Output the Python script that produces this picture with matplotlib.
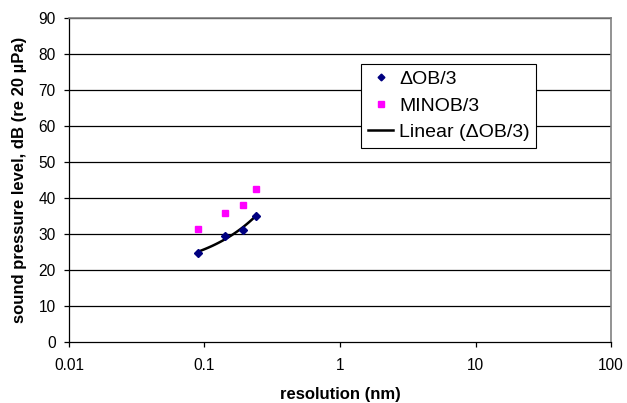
import numpy as np
import matplotlib.pyplot as plt
from matplotlib.ticker import FixedLocator, NullLocator

plt.rcParams['font.family'] = ['Liberation Sans', 'DejaVu Sans']

# data
res_ob3 = [0.089, 0.141, 0.191, 0.238]
spl_ob3 = [24.6, 29.3, 31.1, 35.0]
res_minob3 = [0.089, 0.141, 0.191, 0.238]
spl_minob3 = [31.3, 35.8, 37.9, 42.3]
x_ticks = [0.01, 0.1, 1, 10, 100]
x_labels = ['0.01', '0.1', '1', '10', '100']
y_ticks = list(range(0, 91, 10))

fig = plt.figure(figsize=(6.27, 4.03), dpi=100)
ax = fig.add_axes([0.110, 0.152, 0.8645, 0.804])

# linear trendline through the ΔOB/3 points
a, b = np.polyfit(res_ob3, spl_ob3, 1)
xt = np.linspace(min(res_ob3), max(res_ob3), 100)

ax.plot(res_ob3, spl_ob3, linestyle='none', marker='D', markersize=4.3,
        color='#000080', label='ΔOB/3', zorder=4)
ax.plot(res_minob3, spl_minob3, linestyle='none', marker='s', markersize=4.6,
        color='#FF00FF', label='MINOB/3', zorder=4)
ax.plot(xt, a * xt + b, color='black', linewidth=1.8, label='Linear (ΔOB/3)', zorder=3)

ax.set_xscale('log')
ax.set_xlim(0.01, 100)
ax.set_ylim(0, 90)
ax.xaxis.set_major_locator(FixedLocator(x_ticks))
ax.xaxis.set_minor_locator(NullLocator())
ax.set_xticklabels(x_labels)
ax.set_yticks(y_ticks)

for v in y_ticks[1:]:
    ax.axhline(v, color='black', linewidth=0.9, zorder=1)

for s in ['top', 'right']:
    ax.spines[s].set_color('#808080')
    ax.spines[s].set_linewidth(1.2)
for s in ['left', 'bottom']:
    ax.spines[s].set_color('black')
    ax.spines[s].set_linewidth(0.9)

ax.tick_params(axis='both', direction='out', length=3.6, width=0.9, labelsize=11.2)
ax.tick_params(axis='y', pad=6)
ax.tick_params(axis='x', pad=8)

ax.set_xlabel('resolution (nm)', fontsize=12, fontweight='bold', labelpad=10)
ax.set_ylabel('sound pressure level, dB (re 20 µPa)', fontsize=12, fontweight='bold', labelpad=8)

leg = ax.legend(loc='upper left', bbox_to_anchor=(0.539, 0.858), fontsize=14,
                frameon=True, fancybox=False, edgecolor='black', framealpha=1,
                handlelength=1.3, handletextpad=0.3, borderpad=0.35, labelspacing=0.45,
                borderaxespad=0, markerscale=0.8)
leg.get_frame().set_linewidth(0.8)

fig.savefig('out.png', dpi=100)
